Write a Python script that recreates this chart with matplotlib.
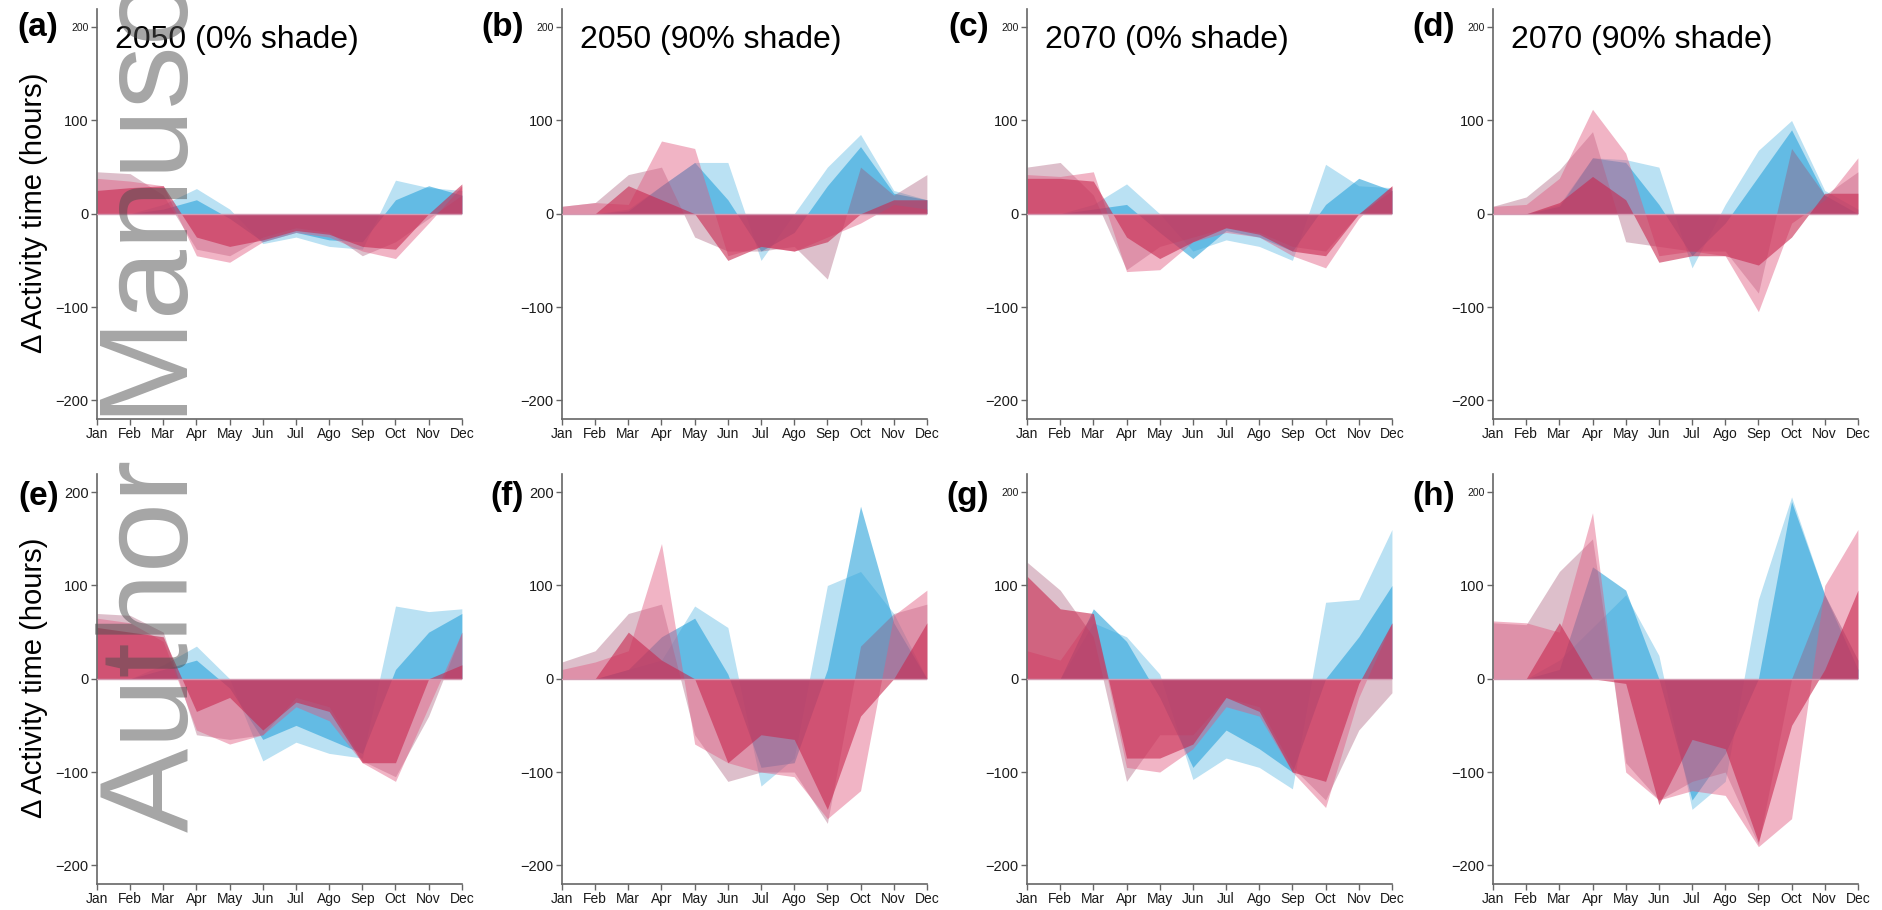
import numpy as np
import matplotlib.pyplot as plt

plt.rcParams['font.family'] = ['Liberation Sans', 'DejaVu Sans']

months = ['Jan', 'Feb', 'Mar', 'Apr', 'May', 'Jun', 'Jul', 'Ago', 'Sep', 'Oct', 'Nov', 'Dec']
tags = ['(a)', '(b)', '(c)', '(d)', '(e)', '(f)', '(g)', '(h)']
titles = ['2050 (0% shade)', '2050 (90% shade)', '2070 (0% shade)', '2070 (90% shade)',
          '', '', '', '']
yticks = [-200, -100, 0, 100, 200]

# change in activity time (hours), one row per panel a..h, Jan..Dec
light_blue = [
    [0, 0, 10, 27, 5, -32, -25, -35, -38, 36, 28, 25],
    [0, 0, 5, 30, 55, 55, -50, 0, 50, 85, 25, 15],
    [0, 0, 10, 32, 0, -40, -28, -35, -50, 53, 30, 28],
    [0, 0, 10, 60, 58, 50, -58, 10, 68, 100, 25, 5],
    [0, 0, 15, 35, 0, -88, -68, -80, -85, 78, 72, 75],
    [0, 0, 10, 20, 78, 55, -115, -85, 100, 115, 70, 0],
    [0, 0, 60, 45, 5, -108, -85, -95, -118, 82, 85, 160],
    [0, 0, 20, 55, 90, 25, -140, -110, 85, 195, 90, 20],
]
blue = [
    [0, 0, 5, 15, -5, -30, -20, -28, -30, 15, 30, 20],
    [0, 0, 3, 30, 55, 15, -40, -20, 30, 72, 22, 15],
    [0, 0, 5, 10, -20, -48, -18, -25, -40, 10, 38, 25],
    [0, 0, 8, 60, 55, 10, -45, -10, 40, 90, 20, 0],
    [0, 0, 10, 20, -10, -65, -50, -65, -80, 10, 50, 70],
    [0, 0, 10, 45, 65, 5, -95, -90, 10, 185, 60, 0],
    [0, 0, 75, 40, -20, -95, -55, -75, -100, 0, 45, 100],
    [0, 0, 10, 120, 95, 0, -130, -80, 0, 190, 90, 10],
]
pink = [
    [38, 35, 30, -45, -52, -30, -20, -25, -40, -48, -10, 30],
    [8, 12, 10, 78, 70, -45, -35, -40, -25, -10, 10, 5],
    [42, 40, 45, -62, -60, -30, -20, -25, -45, -58, -5, 30],
    [8, 10, 38, 112, 65, -45, -40, -45, -105, -10, 15, 60],
    [65, 60, 40, -55, -70, -60, -30, -45, -90, -110, -30, 50],
    [10, 18, 30, 145, -70, -90, -100, -105, -150, -120, 68, 95],
    [30, 20, 70, -95, -100, -75, -30, -40, -100, -138, -20, 60],
    [62, 60, 50, 178, -100, -130, -120, -125, -180, -150, 100, 160],
]
red = [
    [25, 28, 30, -25, -35, -28, -18, -22, -35, -38, 0, 32],
    [0, 0, 30, 15, 0, -50, -35, -40, -30, 0, 15, 15],
    [38, 38, 35, -25, -48, -30, -15, -22, -40, -45, 0, 30],
    [0, 0, 12, 40, 15, -52, -45, -45, -55, -25, 22, 22],
    [55, 50, 45, -35, -20, -55, -25, -35, -90, -90, 0, 15],
    [0, 0, 50, 20, 0, -90, -60, -65, -140, -40, 0, 60],
    [110, 75, 70, -85, -85, -70, -20, -35, -100, -110, -5, 60],
    [0, 0, 60, 0, -5, -135, -65, -75, -175, -50, 10, 95],
]
rose = [
    [45, 43, 20, -38, -45, -25, -15, -20, -45, -30, -5, 20],
    [8, 12, 42, 50, -25, -40, -40, -35, -70, 50, 20, 42],
    [50, 55, 20, -60, -35, -25, -15, -20, -35, -40, 0, 25],
    [8, 18, 47, 88, -30, -35, -40, -40, -85, 70, 20, 45],
    [70, 68, 50, -60, -65, -60, -20, -30, -88, -105, -40, 50],
    [18, 30, 70, 80, -60, -110, -100, -100, -155, 35, 70, 80],
    [125, 95, 45, -110, -60, -60, -20, -30, -95, -130, -55, -15],
    [60, 58, 115, 150, -90, -130, -110, -100, -178, 0, 90, 20],
]

# blues underneath, reds laid over them (gives the mauve / maroon overlaps)
layers = [
    (light_blue, '#8ccdeb', 0.6),
    (blue, '#2aa3da', 0.6),
    (rose, '#a04a6a', 0.35),
    (pink, '#e05a80', 0.45),
    (red, '#c8284f', 0.6),
]

fig = plt.figure(figsize=(18.82, 9.10), dpi=100)
lefts = [0.0515, 0.2986, 0.5457, 0.7933]
bottoms = [0.5396, 0.0286]
x = np.arange(len(months))

for i in range(8):
    r, c = divmod(i, 4)
    ax = fig.add_axes([lefts[c], bottoms[r], 0.1939, 0.451])
    for data, col, a in layers:
        ax.fill_between(x, 0, data[i], color=col, alpha=a, lw=0)
    ax.axhline(0, color='#d49ab2', lw=1, zorder=3)
    ax.set_xlim(0, 11)
    ax.set_ylim(-220, 220)
    ax.set_xticks(x)
    ax.set_xticklabels(months, fontsize=10, color='#1a1a1a')
    ax.set_yticks(yticks)
    ax.set_yticklabels(['\u2212200', '\u2212100', '0', '100', '200'], fontsize=10.5,
                       color='#1a1a1a')
    if r == 0 or c >= 2:
        ax.get_yticklabels()[-1].set_fontsize(7.5)
    for s in ['top', 'right']:
        ax.spines[s].set_visible(False)
    for s in ['left', 'bottom']:
        ax.spines[s].set_color('#666666')
        ax.spines[s].set_linewidth(1.2)
    ax.tick_params(colors='#666666', labelcolor='#1a1a1a', length=4, width=1, pad=2)
    ax.text(-0.105, 195 if r else 200, tags[i], transform=ax.get_yaxis_transform(),
            ha='right', va='center', fontsize=24, fontweight='bold')
    if titles[i]:
        ax.text(0.05, 178, titles[i], transform=ax.get_yaxis_transform(),
                ha='left', va='baseline', fontsize=23)

for yc in [0.766, 0.255]:
    fig.text(0.018, yc, '\u0394 Activity time (hours)', rotation=90,
             ha='center', va='center', fontsize=21)

fig.text(0.0999, 0.0857, 'Author Manuscript', rotation=90, rotation_mode='anchor',
         ha='left', va='baseline', fontsize=91, color='#4d4d4d', alpha=0.5)

fig.savefig('out.png', dpi=100)
